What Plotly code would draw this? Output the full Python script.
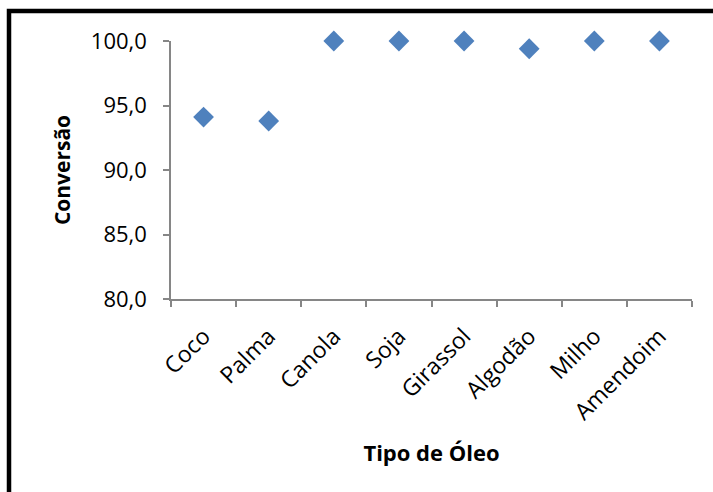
import plotly.graph_objects as go

# Oil types and conversion (%)
oleos = ["Coco", "Palma", "Canola", "Soja", "Girassol", "Algodão", "Milho", "Amendoim"]
conversao = [94.1, 93.8, 100.0, 100.0, 100.0, 99.4, 100.0, 100.0]
y_ticks = [80, 85, 90, 95, 100]

FONT = "Open Sans"
AXIS_GRAY = "#868686"

fig = go.Figure(
    go.Scatter(
        x=oleos,
        y=conversao,
        mode="markers",
        marker=dict(symbol="diamond", size=16, color="#4F81BD",
                    line=dict(width=0)),
        cliponaxis=False,
        showlegend=False,
    )
)

W, H = 713, 492
ml, mr, mt, mb = 171, 21, 41, 193

fig.update_layout(
    width=W,
    height=H,
    margin=dict(l=ml, r=mr, t=mt, b=mb, pad=0),
    paper_bgcolor="white",
    plot_bgcolor="white",
    separators=",.",
    font=dict(family=FONT, size=22, color="black"),
    xaxis=dict(
        type="category",
        range=[-0.5, len(oleos) - 0.5],
        showline=True,
        linecolor=AXIS_GRAY,
        linewidth=1.5,
        ticks="outside",
        tickson="boundaries",
        ticklen=6,
        tickcolor=AXIS_GRAY,
        tickwidth=1.5,
        tickangle=-45,
        ticklabelstandoff=13,
        showgrid=False,
        zeroline=False,
        tickfont=dict(family=FONT, size=23),
        title=dict(text="<b>Tipo de Óleo</b>",
                   font=dict(family=FONT, size=22), standoff=20),
    ),
    yaxis=dict(
        range=[80, 100],
        tickvals=y_ticks,
        tickformat=".1f",
        showline=True,
        linecolor=AXIS_GRAY,
        linewidth=1.5,
        ticks="outside",
        ticklen=6,
        tickcolor=AXIS_GRAY,
        tickwidth=1.5,
        ticklabelstandoff=12,
        showgrid=False,
        zeroline=False,
        tickfont=dict(family=FONT, size=22),
        title=dict(text="<b>Conversão</b>",
                   font=dict(family=FONT, size=21), standoff=14),
    ),
)

# Chart frame: thick black border (right and bottom run past the page edge)
pw = W - ml - mr
ph = H - mt - mb
def px(x):
    return (x - ml) / pw
def py(y):
    return (H - mb - y) / ph

fig.add_shape(
    type="rect", xref="paper", yref="paper",
    x0=px(9), x1=px(W + 20), y0=py(H + 20), y1=py(11),
    line=dict(color="black", width=4.5), fillcolor="rgba(0,0,0,0)",
    layer="above",
)

fig.write_html("out.html")
